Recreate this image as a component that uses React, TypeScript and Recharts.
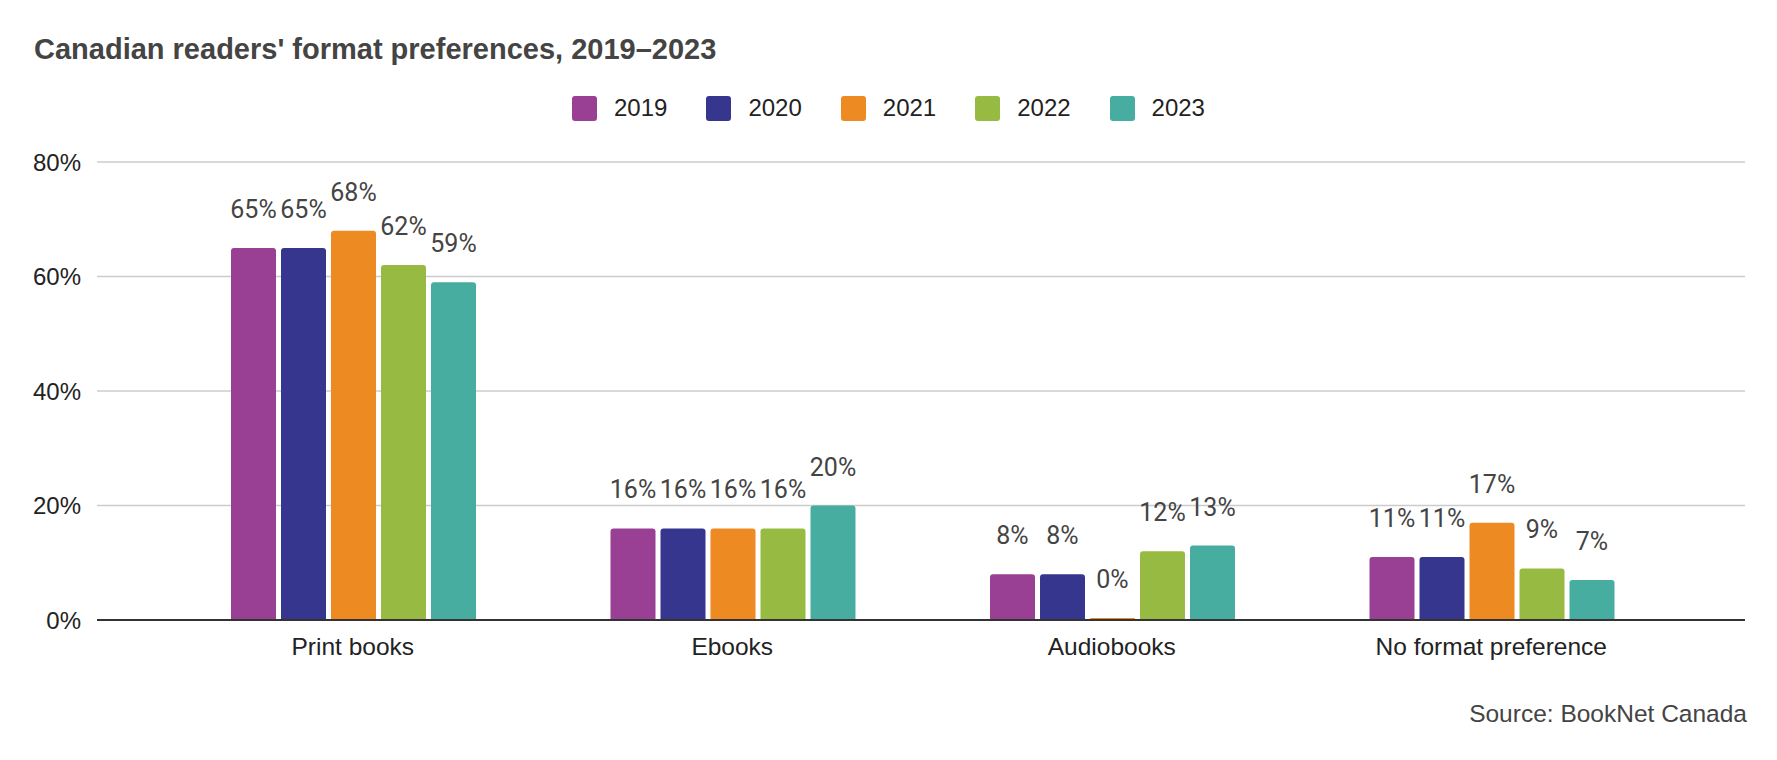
import { Bar, BarChart, CartesianGrid, LabelList, Legend, XAxis, YAxis } from 'recharts'

const formats = ['Print books', 'Ebooks', 'Audiobooks', 'No format preference']
const years = ['2019', '2020', '2021', '2022', '2023']
const colors = ['#993f94', '#37368e', '#ee8a22', '#97bb42', '#46ada0']

const values2019 = [65, 16, 8, 11]
const values2020 = [65, 16, 8, 11]
const values2021 = [68, 16, 0, 17]
const values2022 = [62, 16, 12, 9]
const values2023 = [59, 20, 13, 7]
const yTicks = [0, 20, 40, 60, 80]

const series = [values2019, values2020, values2021, values2022, values2023]

const data = formats.map((format, i) => {
  const row: Record<string, string | number> = { format }
  years.forEach((year, j) => {
    row[year] = series[j][i]
  })
  return row
})

const renderLegend = (props: any) => {
  const { payload } = props
  return (
    <div style={{ display: 'flex', justifyContent: 'center', gap: 39 }}>
      {payload.map((entry: any) => (
        <div key={entry.value} style={{ display: 'flex', alignItems: 'center' }}>
          <span
            style={{
              width: 25,
              height: 25,
              borderRadius: 3,
              background: entry.color,
              marginRight: 17,
              display: 'inline-block'
            }}
          />
          <span style={{ fontSize: 24, color: '#222', fontFamily: 'Liberation Sans, Arial, sans-serif' }}>
            {entry.value}
          </span>
        </div>
      ))}
    </div>
  )
}

export default function App() {
  return (
    <div style={{ position: 'absolute', left: 0, top: 0, width: 1777, height: 760, background: '#fff' }}>
      <div
        style={{
          position: 'absolute',
          left: 34,
          top: 33,
          fontSize: 29,
          fontWeight: 'bold',
          color: '#444',
          fontFamily: 'Liberation Sans, Arial, sans-serif',
          whiteSpace: 'nowrap'
        }}
      >
        Canadian readers' format preferences, 2019–2023
      </div>
      <BarChart
        width={1777}
        height={760}
        data={data}
        margin={{ top: 162, right: 32, bottom: 0, left: 0 }}
        barCategoryGap={68}
        barGap={5}
      >
        <CartesianGrid vertical={false} stroke="#cccccc" strokeWidth={1.5} />
        <XAxis
          dataKey="format"
          height={140}
          padding={{ left: 66, right: 64 }}
          axisLine={{ stroke: '#333', strokeWidth: 2 }}
          tickLine={false}
          tickSize={6}
          tickMargin={12}
          tick={{ fill: '#222', fontSize: 24.5, fontFamily: 'Liberation Sans, Arial, sans-serif' }}
        />
        <YAxis
          width={97}
          domain={[0, 80]}
          ticks={yTicks}
          axisLine={false}
          tickLine={false}
          tickSize={6}
          tickMargin={10}
          tickFormatter={(v) => `${v}%`}
          tick={{ fill: '#222', fontSize: 24, fontFamily: 'Liberation Sans, Arial, sans-serif' }}
        />
        <Legend
          verticalAlign="middle"
          align="center"
          layout="horizontal"
          content={renderLegend}
          wrapperStyle={{ top: 94, left: 0, width: 1777 }}
        />
        {years.map((year, j) => (
          <Bar
            key={year}
            dataKey={year}
            fill={colors[j]}
            radius={[3, 3, 0, 0]}
            minPointSize={2}
            isAnimationActive={false}
          >
            <LabelList
              dataKey={year}
              position="top"
              offset={30}
              formatter={(v: any) => `${v}%`}
              fill="#444"
              fontSize={25}
              fontFamily="Roboto, sans-serif"
            />
          </Bar>
        ))}
      </BarChart>
      <div
        style={{
          position: 'absolute',
          right: 30,
          top: 700,
          fontSize: 24.5,
          color: '#444',
          fontFamily: 'Liberation Sans, Arial, sans-serif',
          whiteSpace: 'nowrap'
        }}
      >
        Source: BookNet Canada
      </div>
    </div>
  )
}
